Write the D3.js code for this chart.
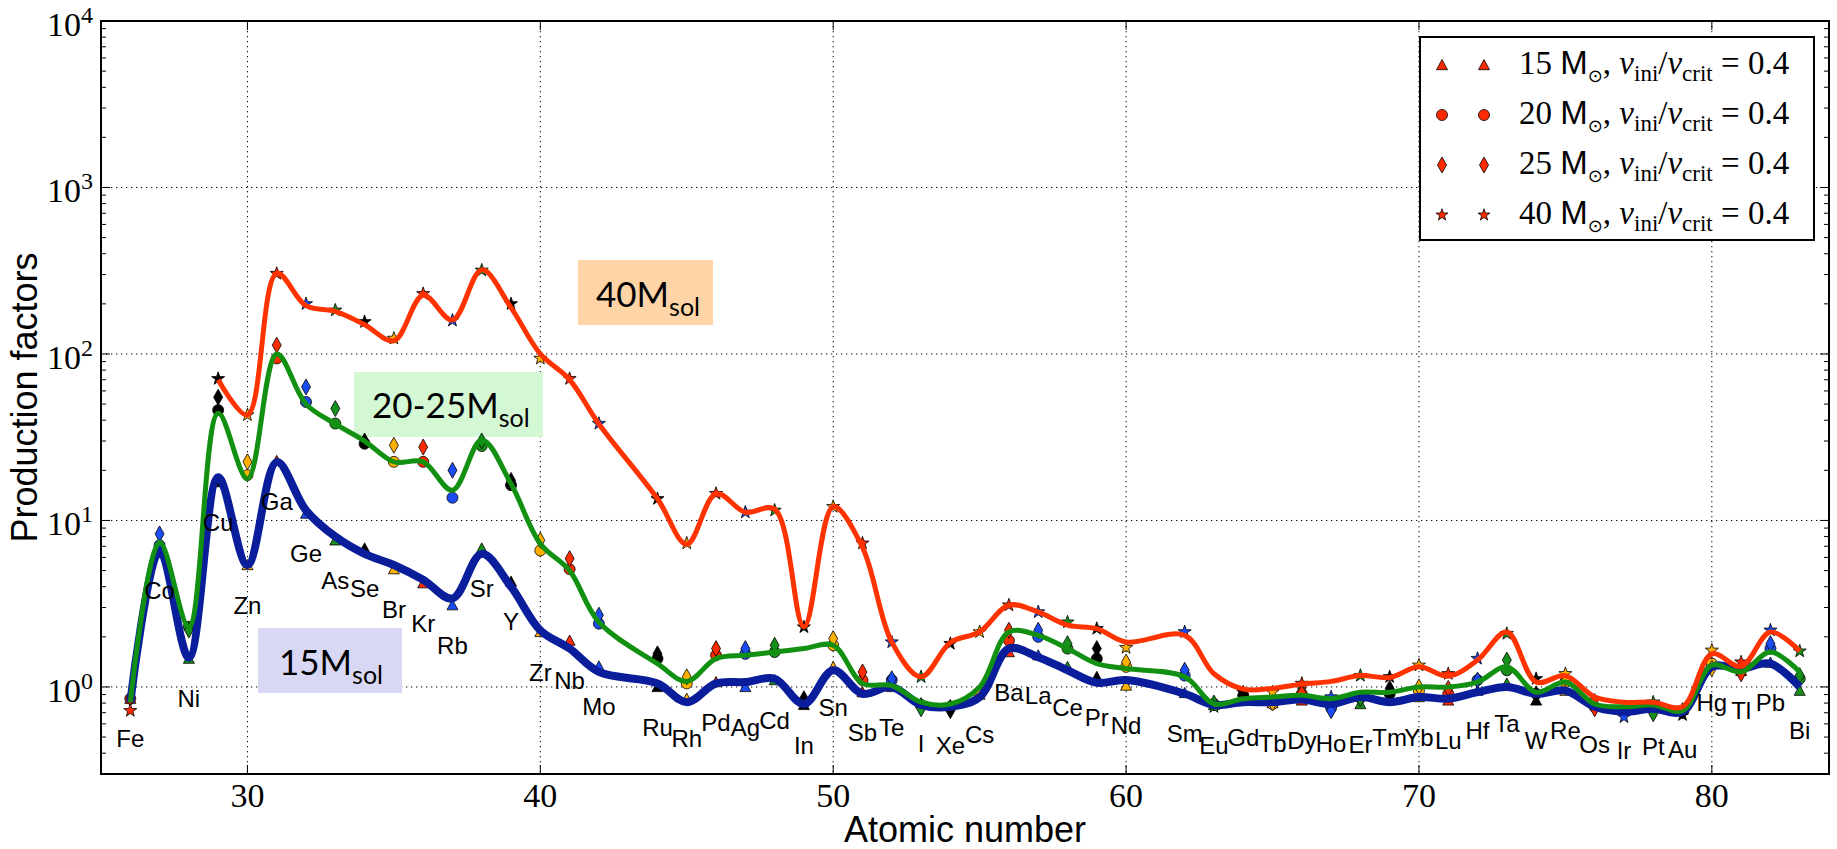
<!DOCTYPE html>
<html>
<head>
<meta charset="utf-8">
<script src="https://cdn.jsdelivr.net/npm/d3@7/dist/d3.min.js"></script>
<style>
  html, body { margin: 0; padding: 0; background: #fff; }
  svg { display: block; }
</style>
</head>
<body>
<svg id="chart" width="1837" height="849"></svg>
<script>
// Elements (atomic number and symbol); Tc (43) and Pm (61) are absent
const elements = ["Fe","Co","Ni","Cu","Zn","Ga","Ge","As","Se","Br","Kr","Rb","Sr","Y","Zr","Nb","Mo",
  "Ru","Rh","Pd","Ag","Cd","In","Sn","Sb","Te","I","Xe","Cs","Ba","La","Ce","Pr","Nd",
  "Sm","Eu","Gd","Tb","Dy","Ho","Er","Tm","Yb","Lu","Hf","Ta","W","Re","Os","Ir","Pt","Au","Hg","Tl","Pb","Bi"];
const atomicNumbers = [26,27,28,29,30,31,32,33,34,35,36,37,38,39,40,41,42,
  44,45,46,47,48,49,50,51,52,53,54,55,56,57,58,59,60,
  62,63,64,65,66,67,68,69,70,71,72,73,74,75,76,77,78,79,80,81,82,83];

// Production factors per model, v_ini/v_crit = 0.4
const pf15 = [0.85,6.6,1.48,17,5.4,22.8,11,7.6,6.8,5.1,4.2,3.1,6.8,4.3,2.14,1.9,1.33,
  1.0,0.85,1.07,1.0,1.1,0.78,1.32,0.93,1.0,0.8,0.78,0.9,1.62,1.55,1.32,1.15,1.02,
  0.92,0.78,0.87,0.8,0.83,0.8,0.79,0.87,0.87,0.83,0.95,1.05,0.83,0.95,0.79,0.72,0.76,0.73,1.4,1.25,1.4,0.95];
const pf20 = [0.85,7.1,2.3,46,18.7,94,51.5,38.2,28.9,22.5,22.5,13.7,28,16.3,6.6,5.1,2.4,
  1.48,1.05,1.55,1.58,1.62,0.8,1.78,1.1,1.1,0.78,0.76,0.91,1.9,2.0,1.7,1.48,1.32,
  1.17,0.79,0.89,0.79,0.91,0.75,0.86,0.91,0.95,0.91,1.1,1.26,0.91,1.07,0.76,0.71,0.75,0.72,1.38,1.26,1.7,1.12];
const pf25 = [0.86,8.3,2.2,55,22.5,113,63.4,47,30,28.3,27.6,20,30,17.4,7.6,5.9,2.7,
  1.58,1.15,1.7,1.7,1.78,0.85,1.95,1.23,1.12,0.74,0.72,0.93,2.19,2.19,1.82,1.7,1.41,
  1.26,0.8,0.9,0.8,0.92,0.72,0.85,0.98,1.0,0.98,1.1,1.45,0.91,1.12,0.74,0.71,0.69,0.72,1.29,1.2,1.82,1.17];
const pf40 = [0.72,null,null,71,43,304,200,183,156,124,230,159,318,200,94,71,38.2,
  13.5,7.3,14.5,11.2,11.5,2.29,12.1,7.3,1.86,1.15,1.82,2.14,3.1,2.82,2.45,2.24,1.72,
  2.14,0.76,0.93,0.93,1.05,0.87,1.17,1.15,1.35,1.2,1.48,2.09,1.12,1.2,0.83,0.66,0.81,0.68,1.66,1.41,2.19,1.64];

// Smoothed trends: 15 Msun, 20-25 Msun, 40 Msun (the 40 Msun trend starts at Cu)
const trend15 = [0.81,6.6,1.5,18.2,5.4,22.4,11.5,8.0,6.3,5.4,4.4,3.4,6.3,4.0,2.19,1.7,1.23,
  1.05,0.81,1.05,1.07,1.12,0.79,1.26,0.91,1.0,0.78,0.76,0.87,1.7,1.51,1.26,1.06,1.1,
  0.91,0.78,0.81,0.81,0.84,0.79,0.87,0.81,0.87,0.85,0.93,1.0,0.91,0.95,0.76,0.71,0.74,0.71,1.32,1.29,1.38,1.0];
const trend2025 = [0.81,7.4,2.3,44,17.8,100,50,38,30,22.5,22.5,15.2,30.4,16.6,7.25,5.0,2.45,
  1.38,1.08,1.48,1.55,1.62,1.7,1.78,1.05,1.02,0.81,0.79,1.0,2.14,2.04,1.7,1.38,1.29,
  1.15,0.79,0.85,0.87,0.89,0.85,0.93,0.93,1.0,1.0,1.07,1.32,0.93,1.07,0.79,0.76,0.78,0.72,1.35,1.23,1.62,1.23];
const trend40 = [null,null,null,70,43,305,195,180,150,120,225,160,320,190,100,70,38,
  13.5,7.2,14.5,11.2,11.7,2.3,12.1,6.9,1.86,1.15,1.85,2.14,3.1,2.82,2.35,2.24,1.86,
  2.04,1.2,0.97,0.98,1.04,1.08,1.17,1.14,1.32,1.16,1.45,2.14,1.07,1.17,0.87,0.81,0.81,0.76,1.58,1.33,2.14,1.64];

const xTicks = [30,40,50,60,70,80];
const yTicks = [1,10,100,1000,10000];
const legendLabels = ["15","20","25","40"];
const boxLabels = [
  {num: "40", sub: "sol"},
  {num: "20-25", sub: "sol"},
  {num: "15", sub: "sol"}
];

// marker colour cycles with the element
const cycle = ["#ff2a00", "#1a4cf2", "#16901a", "#000000", "#ffb000"];
const lineColors = {m15: "#0a1e9c", m20: "#119011", m40: "#ff3300"};

const svg = d3.select("#chart");
const plotL = 101, plotR = 1829, plotT = 21, plotB = 774;

const x = d3.scaleLinear().domain([25, 84]).range([plotL, plotR]);
const y = d3.scaleLog().domain([0.3, 1e4]).range([plotB, plotT]);

const rows = atomicNumbers.map((z, i) => ({
  z, sym: elements[i], color: cycle[(z - 26) % 5],
  p15: pf15[i], p20: pf20[i], p25: pf25[i], p40: pf40[i],
  t15: trend15[i], t20: trend2025[i], t40: trend40[i]
}));

// grid
const grid = svg.append("g");
xTicks.forEach(t => grid.append("line")
  .attr("x1", x(t)).attr("x2", x(t)).attr("y1", plotT).attr("y2", plotB)
  .attr("stroke", "#000").attr("stroke-width", 1).attr("stroke-dasharray", "1.3,3.7"));
yTicks.slice(0, 4).forEach(t => grid.append("line")
  .attr("x1", plotL).attr("x2", plotR).attr("y1", y(t)).attr("y2", y(t))
  .attr("stroke", "#000").attr("stroke-width", 1).attr("stroke-dasharray", "1.3,3.7"));

// annotation boxes
function massBox(x0, y0, x1, y1, fill, lab, tx, ty) {
  svg.append("rect").attr("x", x0).attr("y", y0).attr("width", x1 - x0).attr("height", y1 - y0)
    .attr("fill", fill);
  const t = svg.append("text").attr("x", tx).attr("y", ty)
    .attr("font-family", "Lato, 'Open Sans', sans-serif").attr("font-size", 35).attr("fill", "#000");
  t.append("tspan").text(lab.num + "M");
  t.append("tspan").attr("font-size", 25).attr("dy", 9).text(lab.sub);
}
massBox(578, 260, 713, 325, "#ffd5a8", boxLabels[0], 596, 307);
massBox(354, 372, 543, 437, "#d4f8d4", boxLabels[1], 372, 418);
massBox(258, 628, 402, 693, "#d8d8f4", boxLabels[2], 279, 675);

// marker shapes
const markerPath = {
  tri: s => `M0,${-s}L${s},${s * 0.85}L${-s},${s * 0.85}Z`,
  cir: s => d3.symbol(d3.symbolCircle, Math.PI * s * s)(),
  dia: s => `M0,${-s * 1.6}L${s * 0.9},0L0,${s * 1.6}L${-s * 0.9},0Z`,
  star: s => {
    let p = "";
    for (let k = 0; k < 10; k++) {
      const r = k % 2 === 0 ? s * 1.25 : s * 0.5;
      const a = -Math.PI / 2 + k * Math.PI / 5;
      p += (k ? "L" : "M") + (r * Math.cos(a)).toFixed(2) + "," + (r * Math.sin(a)).toFixed(2);
    }
    return p + "Z";
  }
};

const markers = svg.append("g");
[["p15", "tri", 5.5], ["p20", "cir", 5.5], ["p25", "dia", 5], ["p40", "star", 5.5]].forEach(([key, shape, s]) => {
  markers.selectAll(null).data(rows.filter(d => d[key] != null)).join("path")
    .attr("d", markerPath[shape](s))
    .attr("transform", d => `translate(${x(d.z)},${y(d[key])})`)
    .attr("fill", d => d.color).attr("stroke", "#000").attr("stroke-width", 0.8);
});

// smooth trend curves
const curve = d3.curveCatmullRom.alpha(0.5);
const line = key => d3.line().curve(curve).x(d => x(d.z)).y(d => y(d[key]));
const trends = [["t15", lineColors.m15, 8], ["t20", lineColors.m20, 5], ["t40", lineColors.m40, 5]];
trends.forEach(([key, color, w]) => {
  svg.append("path").datum(rows.filter(d => d[key] != null)).attr("d", line(key))
    .attr("fill", "none").attr("stroke", color).attr("stroke-width", w)
    .attr("stroke-linejoin", "round").attr("stroke-linecap", "butt");
});

// element names under the 15 Msun points
svg.append("g").selectAll("text").data(rows).join("text")
  .attr("x", d => x(d.z)).attr("y", d => y(d.p15 * 0.51))
  .attr("text-anchor", "middle")
  .attr("font-family", "'Liberation Sans', Arial, sans-serif").attr("font-size", 24)
  .text(d => d.sym);

// frame and ticks
const frame = svg.append("g");
frame.append("rect").attr("x", plotL).attr("y", plotT).attr("width", plotR - plotL).attr("height", plotB - plotT)
  .attr("fill", "none").attr("stroke", "#000").attr("stroke-width", 2);

xTicks.forEach(t => {
  frame.append("line").attr("x1", x(t)).attr("x2", x(t)).attr("y1", plotB).attr("y2", plotB - 9)
    .attr("stroke", "#000").attr("stroke-width", 1);
  frame.append("line").attr("x1", x(t)).attr("x2", x(t)).attr("y1", plotT).attr("y2", plotT + 9)
    .attr("stroke", "#000").attr("stroke-width", 1);
  frame.append("text").attr("x", x(t)).attr("y", 807).attr("text-anchor", "middle")
    .attr("font-family", "'Liberation Serif', 'DejaVu Serif', serif").attr("font-size", 34)
    .text(t);
});

const minor = [];
for (let e = -1; e <= 3; e++) for (let m = 2; m <= 9; m++) {
  const v = m * Math.pow(10, e);
  if (v >= 0.3 && v < 1e4) minor.push(v);
}
minor.forEach(v => {
  frame.append("line").attr("x1", plotL).attr("x2", plotL + 5).attr("y1", y(v)).attr("y2", y(v))
    .attr("stroke", "#000").attr("stroke-width", 1);
  frame.append("line").attr("x1", plotR).attr("x2", plotR - 5).attr("y1", y(v)).attr("y2", y(v))
    .attr("stroke", "#000").attr("stroke-width", 1);
});
yTicks.forEach(v => {
  frame.append("line").attr("x1", plotL).attr("x2", plotL + 9).attr("y1", y(v)).attr("y2", y(v))
    .attr("stroke", "#000").attr("stroke-width", 1);
  frame.append("line").attr("x1", plotR).attr("x2", plotR - 9).attr("y1", y(v)).attr("y2", y(v))
    .attr("stroke", "#000").attr("stroke-width", 1);
  const t = frame.append("text").attr("x", 93).attr("y", y(v) + 15).attr("text-anchor", "end")
    .attr("font-family", "'Liberation Serif', 'DejaVu Serif', serif").attr("font-size", 34);
  t.append("tspan").text("10");
  t.append("tspan").attr("font-size", 24).attr("dy", -13).text(String(Math.round(Math.log10(v))));
});

// axis titles
svg.append("text").attr("x", (plotL + plotR) / 2).attr("y", 842).attr("text-anchor", "middle")
  .attr("font-family", "'Liberation Sans', Arial, sans-serif").attr("font-size", 36)
  .text("Atomic number");
svg.append("text").attr("transform", `translate(37,${(plotT + plotB) / 2}) rotate(-90)`)
  .attr("text-anchor", "middle")
  .attr("font-family", "'Liberation Sans', Arial, sans-serif").attr("font-size", 36)
  .text("Production factors");

// legend
const lg = svg.append("g");
lg.append("rect").attr("x", 1420).attr("y", 37).attr("width", 394).attr("height", 203)
  .attr("fill", "#fff").attr("stroke", "#000").attr("stroke-width", 2);
const legendShapes = [["tri", 5.5], ["cir", 5.5], ["dia", 5], ["star", 5]];
legendLabels.forEach((lab, i) => {
  const cy = 65 + i * 50;
  [1442, 1484].forEach(mx => lg.append("path").attr("d", markerPath[legendShapes[i][0]](legendShapes[i][1]))
    .attr("transform", `translate(${mx},${cy})`)
    .attr("fill", cycle[0]).attr("stroke", "#000").attr("stroke-width", 0.8));
  const t = lg.append("text").attr("x", 1519).attr("y", cy + 9)
    .attr("font-family", "'Liberation Serif', 'DejaVu Serif', serif").attr("font-size", 33);
  t.append("tspan").text(lab + " ");
  t.append("tspan").attr("font-family", "'Liberation Sans', Arial, sans-serif").text("M");
  t.append("tspan").attr("font-family", "'DejaVu Sans', sans-serif").attr("font-size", 18).attr("dy", 8).text("\u2299");
  t.append("tspan").attr("dy", -8).text(", ");
  t.append("tspan").attr("font-style", "italic").text("v");
  t.append("tspan").attr("font-size", 23).attr("dy", 7).text("ini");
  t.append("tspan").attr("dy", -7).text("/");
  t.append("tspan").attr("font-style", "italic").text("v");
  t.append("tspan").attr("font-size", 23).attr("dy", 7).text("crit");
  t.append("tspan").attr("dy", -7).text(" = 0.4");
});
</script>
</body>
</html>
